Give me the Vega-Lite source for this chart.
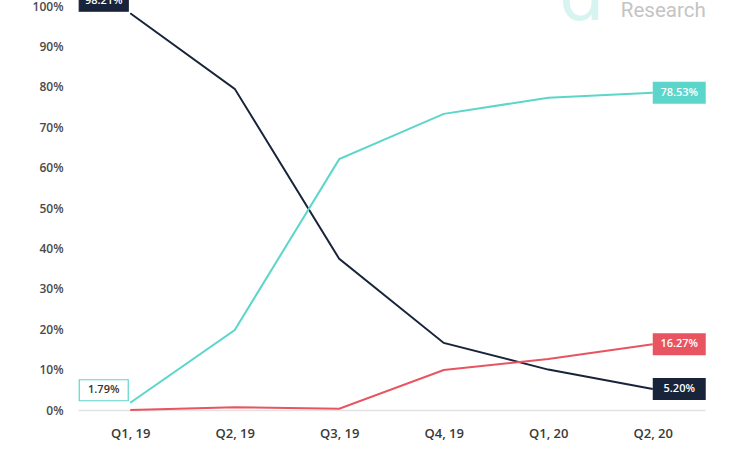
{
  "$schema": "https://vega.github.io/schema/vega-lite/v6.json",
  "width": 627,
  "height": 404,
  "autosize": "none",
  "padding": {"left": 78, "top": 6, "right": 39, "bottom": 47},
  "background": "white",
  "config": {"view": {"stroke": null}},
  "data": {"values": [
    {"quarter": "Q1, 19", "series": "Navy", "value": 0.9821},
    {"quarter": "Q1, 19", "series": "Teal", "value": 0.0179},
    {"quarter": "Q1, 19", "series": "Red", "value": 0.0},
    {"quarter": "Q2, 19", "series": "Navy", "value": 0.795},
    {"quarter": "Q2, 19", "series": "Teal", "value": 0.198},
    {"quarter": "Q2, 19", "series": "Red", "value": 0.007},
    {"quarter": "Q3, 19", "series": "Navy", "value": 0.374},
    {"quarter": "Q3, 19", "series": "Teal", "value": 0.621},
    {"quarter": "Q3, 19", "series": "Red", "value": 0.003},
    {"quarter": "Q4, 19", "series": "Navy", "value": 0.166},
    {"quarter": "Q4, 19", "series": "Teal", "value": 0.733},
    {"quarter": "Q4, 19", "series": "Red", "value": 0.099},
    {"quarter": "Q1, 20", "series": "Navy", "value": 0.1},
    {"quarter": "Q1, 20", "series": "Teal", "value": 0.773},
    {"quarter": "Q1, 20", "series": "Red", "value": 0.126},
    {"quarter": "Q2, 20", "series": "Navy", "value": 0.052},
    {"quarter": "Q2, 20", "series": "Teal", "value": 0.7853},
    {"quarter": "Q2, 20", "series": "Red", "value": 0.1627}
  ]},
  "encoding": {
    "x": {"field": "quarter", "type": "ordinal", "sort": null, "title": null,
      "scale": {"type": "point", "padding": 0.5, "domain": ["Q1, 19", "Q2, 19", "Q3, 19", "Q4, 19", "Q1, 20", "Q2, 20"]},
      "axis": {"labelAngle": 0, "ticks": false, "domain": true, "domainColor": "#e2e2e2", "domainWidth": 1.5, "labelPadding": 17, "labelFont": "Open Sans", "labelFontWeight": 600, "labelFontSize": 13, "labelColor": "#3a3a3a", "grid": false}},
    "y": {"field": "value", "type": "quantitative", "title": null,
      "scale": {"domain": [0, 1], "nice": false},
      "axis": {"values": [0, 0.1, 0.2, 0.3, 0.4, 0.5, 0.6, 0.7, 0.8, 0.9, 1], "format": ".0%", "ticks": false, "domain": false, "grid": false, "labelPadding": 15, "labelFont": "Open Sans", "labelFontWeight": 600, "labelFontSize": 12, "labelColor": "#4a4a4a"}}
  },
  "layer": [
    {
      "transform": [{"filter": "datum.quarter == 'Q2, 20' && datum.series == 'Teal'"}],
      "mark": {"type": "text", "align": "right", "baseline": "alphabetic", "dx": -48, "dy": 14, "font": "DejaVu Sans", "fontSize": 72, "color": "#d8f4f1", "text": "ɑ"},
      "encoding": {"y": {"datum": 1}}
    },
    {
      "transform": [{"filter": "datum.quarter == 'Q2, 20' && datum.series == 'Teal'"}],
      "mark": {"type": "text", "align": "right", "baseline": "alphabetic", "dx": 53, "dy": 11, "font": "Roboto", "fontSize": 20.5, "color": "#c4c4c4", "text": "Research"},
      "encoding": {"y": {"datum": 1}}
    },
    {
      "mark": {"type": "line", "strokeWidth": 2},
      "encoding": {
        "color": {"field": "series", "type": "nominal", "legend": null,
          "scale": {"domain": ["Navy", "Teal", "Red"], "range": ["#18243a", "#5cd6ca", "#e8545f"]}}
      }
    },
    {
      "transform": [{"filter": "datum.quarter == 'Q1, 19' && datum.series != 'Red'"}],
      "mark": {"type": "point", "shape": "M-51,-23H-2V-2H-51Z", "size": 4, "filled": true, "opacity": 1, "strokeWidth": 1.2},
      "encoding": {
        "fill": {"condition": {"test": "datum.series == 'Teal'", "value": "#ffffff"}, "field": "series", "type": "nominal", "legend": null,
          "scale": {"domain": ["Navy", "Teal", "Red"], "range": ["#18243a", "#5cd6ca", "#e8545f"]}},
        "stroke": {"field": "series", "type": "nominal", "legend": null,
          "scale": {"domain": ["Navy", "Teal", "Red"], "range": ["#18243a", "#5cd6ca", "#e8545f"]}}
      }
    },
    {
      "transform": [{"filter": "datum.quarter == 'Q1, 19' && datum.series != 'Red'"}],
      "mark": {"type": "text", "dx": -26.5, "dy": -12.5, "align": "center", "baseline": "middle", "font": "Open Sans", "fontSize": 11, "fontWeight": 600},
      "encoding": {
        "text": {"field": "value", "type": "quantitative", "format": ".2%"},
        "color": {"condition": {"test": "datum.series == 'Teal'", "value": "#333333"}, "value": "#ffffff"}
      }
    },
    {
      "transform": [{"filter": "datum.quarter == 'Q2, 20'"}],
      "mark": {"type": "point", "shape": "M0,-11H53V11H0Z", "size": 4, "filled": true, "opacity": 1},
      "encoding": {
        "fill": {"field": "series", "type": "nominal", "legend": null,
          "scale": {"domain": ["Navy", "Teal", "Red"], "range": ["#18243a", "#5cd6ca", "#e8545f"]}}
      }
    },
    {
      "transform": [{"filter": "datum.quarter == 'Q2, 20'"}],
      "mark": {"type": "text", "dx": 26.5, "dy": 0, "align": "center", "baseline": "middle", "font": "Open Sans", "fontSize": 11, "fontWeight": 600, "color": "#ffffff"},
      "encoding": {
        "text": {"field": "value", "type": "quantitative", "format": ".2%"}
      }
    }
  ]
}
